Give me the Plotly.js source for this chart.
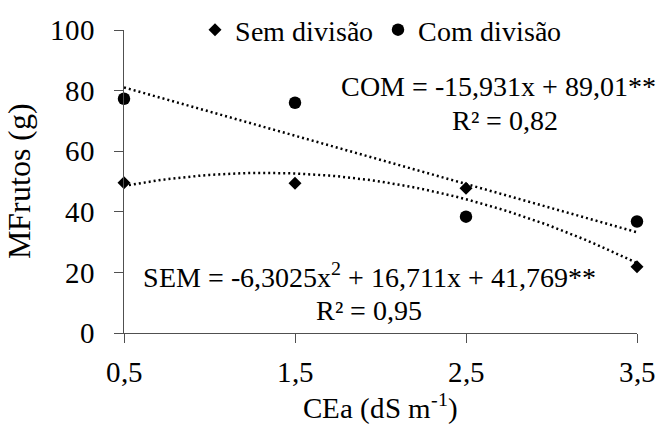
<!DOCTYPE html>
<html>
<head>
<meta charset="utf-8">
<script src="https://cdn.plot.ly/plotly-3.0.1.min.js"></script>
<style>
  @font-face {
    font-family: "ChartSerif";
    src: local("Liberation Serif"), local("LiberationSerif-Regular"), local("Times New Roman");
    font-weight: normal;
    font-style: normal;
  }
  html, body { margin: 0; padding: 0; background: #fff; }
  #chart { width: 662px; height: 428px; }
  /* every label in the figure is set in the serif face */
  #chart svg text, #chart svg tspan {
    font-family: "ChartSerif", "Liberation Serif", "Times New Roman", serif !important;
  }
</style>
</head>
<body>
<div id="chart"></div>
<script>
// Electrical conductivity of irrigation water (dS m-1)
const cea = [0.5, 1.5, 2.5, 3.5];
const ceaLabels = ['0,5', '1,5', '2,5', '3,5'];

// Fruit mass (g) for each treatment
const semDivisao = [49.6, 49.4, 47.8, 21.9];
const comDivisao = [77.3, 76.0, 38.4, 36.8];

// Fitted regression coefficients (highest power first)
const semCoef = [-6.3025, 16.711, 41.769];   // quadratic
const comCoef = [-15.931, 89.01];            // linear

const yTicks = [0, 20, 40, 60, 80, 100];

(function () {
  function polyEval(coef, x) {
    return coef.reduce((acc, c) => acc * x + c, 0);
  }
  function fitCurve(coef) {
    const xs = [], ys = [];
    const n = 60;
    for (let i = 0; i <= n; i++) {
      const x = cea[0] + (cea[cea.length - 1] - cea[0]) * i / n;
      xs.push(x);
      ys.push(polyEval(coef, x));
    }
    return { xs, ys };
  }

  const semFit = fitCurve(semCoef);
  const comFit = fitCurve(comCoef);

  const FAMILY = '"ChartSerif", "Liberation Serif", "Times New Roman", serif';
  const txt = (size) => ({ family: FAMILY, size: size, color: '#000' });
  const dotted = { color: '#000', width: 2.5, dash: '2px,3px' };
  const axisColor = '#505050';

  const data = [
    { x: semFit.xs, y: semFit.ys, mode: 'lines', line: dotted,
      showlegend: false, hoverinfo: 'skip', cliponaxis: false },
    { x: comFit.xs, y: comFit.ys, mode: 'lines', line: dotted,
      showlegend: false, hoverinfo: 'skip', cliponaxis: false },
    { x: cea, y: semDivisao, name: 'Sem divisão', mode: 'markers',
      marker: { symbol: 'diamond', size: 10, color: '#000' }, cliponaxis: false },
    { x: cea, y: comDivisao, name: 'Com divisão', mode: 'markers',
      marker: { symbol: 'circle', size: 12.5, color: '#000' }, cliponaxis: false }
  ];

  const fig = {
    width: 662, height: 428,
    margin: { l: 124, r: 25, t: 30, b: 95, autoexpand: false },
    paper_bgcolor: '#fff', plot_bgcolor: '#fff',
    font: txt(28),
    showlegend: true,
    legend: {
      orientation: 'h', x: 0.5, xanchor: 'center', y: 1, yanchor: 'middle',
      bgcolor: 'rgba(0,0,0,0)', font: txt(28), itemwidth: 30
    },
    xaxis: {
      range: [0.5, 3.5], tickmode: 'array', tickvals: cea, ticktext: ceaLabels,
      automargin: false,
      showgrid: false, zeroline: false, showline: true, linecolor: axisColor, linewidth: 1,
      ticks: 'outside', ticklen: 9, tickcolor: axisColor, tickwidth: 1,
      ticklabelstandoff: 4, tickfont: txt(29),
      title: { text: 'CEa (dS m<sup>-1</sup>)', font: txt(29), standoff: 4 }
    },
    yaxis: {
      range: [0, 100], tickmode: 'array', tickvals: yTicks,
      automargin: false,
      showgrid: false, zeroline: false, showline: true, linecolor: axisColor, linewidth: 1,
      ticks: 'outside', ticklen: 9, tickcolor: axisColor, tickwidth: 1,
      ticklabelstandoff: 13, tickfont: txt(29),
      title: { text: 'MFrutos (g)', font: txt(32), standoff: 10 }
    },
    annotations: [
      { xref: 'paper', yref: 'paper', x: 0.73, y: 0.812, xanchor: 'center', yanchor: 'middle',
        text: 'COM = -15,931x + 89,01**', showarrow: false, font: txt(28) },
      { xref: 'paper', yref: 'paper', x: 0.742, y: 0.70, xanchor: 'center', yanchor: 'middle',
        text: 'R² = 0,82', showarrow: false, font: txt(28) },
      { xref: 'paper', yref: 'paper', x: 0.479, y: 0.19, xanchor: 'center', yanchor: 'middle',
        text: 'SEM = -6,3025x<sup>2</sup> + 16,711x + 41,769**', showarrow: false, font: txt(28) },
      { xref: 'paper', yref: 'paper', x: 0.478, y: 0.075, xanchor: 'center', yanchor: 'middle',
        text: 'R² = 0,95', showarrow: false, font: txt(28) }
    ]
  };

  const config = { displayModeBar: false, staticPlot: true };
  const draw = () => Plotly.newPlot('chart', data, fig, config).then((gd) => {
    // second pass so every label is measured and painted with the loaded face
    setTimeout(() => Plotly.react(gd, data, fig, config), 30);
  });

  if (document.fonts && document.fonts.load) {
    document.fonts.load('28px "ChartSerif"').then(draw, draw);
  } else {
    draw();
  }
})();
</script>
</body>
</html>
